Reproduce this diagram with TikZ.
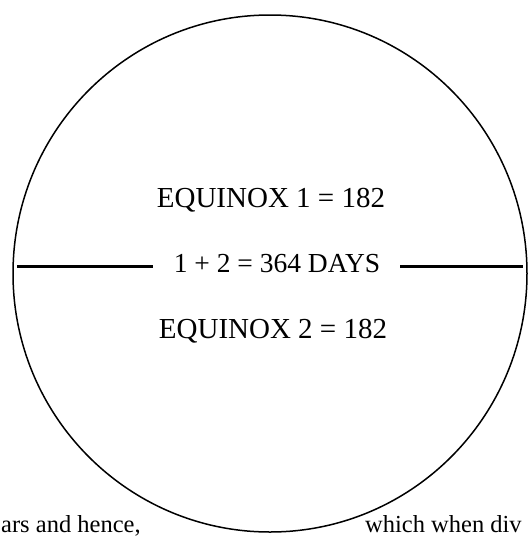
\documentclass[tikz,border=0pt]{standalone}
\usepackage{fontspec}
\setmainfont{Liberation Serif}
\begin{document}
\begin{tikzpicture}[x=1pt,y=-1pt,
  lbl/.style={anchor=base, inner sep=0pt, font=\fontsize{29}{31}\selectfont},
  sumlbl/.style={lbl, font=\fontsize{27.5}{30}\selectfont},
  page/.style={anchor=base west, inner sep=0pt, font=\fontsize{24.5}{28}\selectfont},
  rule/.style={line width=3pt},
  rim/.style={line width=1.5pt}]
\useasboundingbox (0,0) rectangle (532,539);
\clip (0,0) rectangle (532,539);
\draw[rim] (270,273.5) ellipse [x radius=257, y radius=258.5];
\node[lbl] (e1) at (271,207) {EQUINOX 1 = 182};
\node[sumlbl] (sum) at (277,272) {1 + 2 = 364 DAYS};
\node[lbl] (e2) at (273,338) {EQUINOX 2 = 182};
\coordinate (l1) at (17,266);
\coordinate (l2) at (153,266);
\coordinate (r1) at (400,266);
\coordinate (r2) at (523,266);
\draw[rule] (l1) -- (l2);
\draw[rule] (r1) -- (r2);
\node[page] (pl) at (1,532) {ars and hence,};
\node[page] (pr) at (365,532) {which when div};
\end{tikzpicture}
\end{document}
